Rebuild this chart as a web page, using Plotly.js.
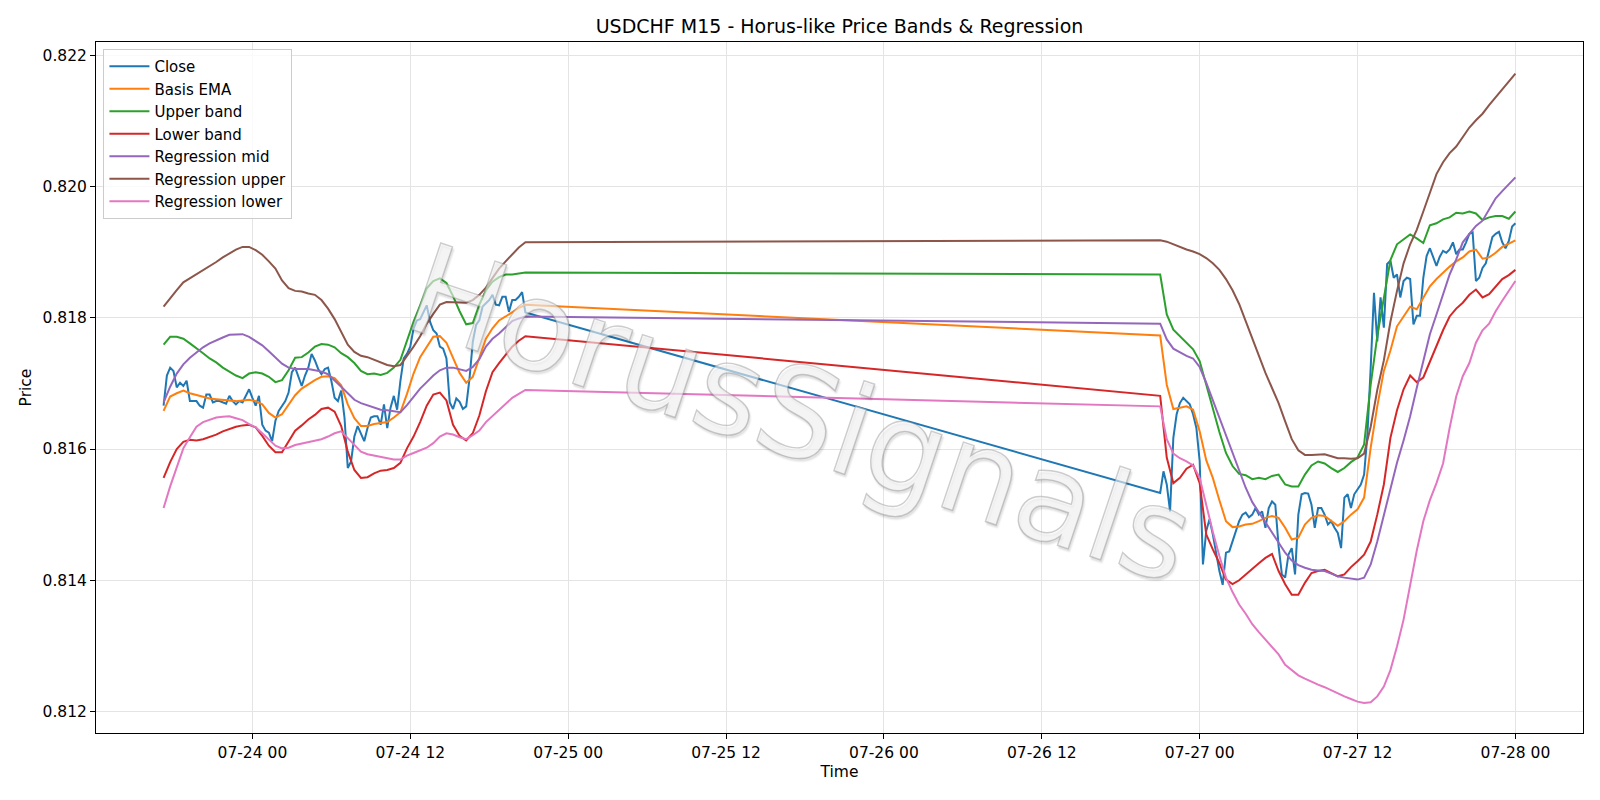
<!DOCTYPE html>
<html><head><meta charset="utf-8">
<script src="https://cdn.plot.ly/plotly-3.0.1.min.js"></script>
<style>
html,body{margin:0;padding:0;background:#fff;}
#chart{width:1600px;height:800px;}
#chart .annotation-text{stroke:rgba(130,130,130,0.4) !important;stroke-width:1.4px !important;}
</style>
</head><body><div id="chart"></div>
<script>
// ---- time axis (M15 bars, two trading sessions) ----
const session1Start = '2020-07-23 17:15';
const session2Start = '2020-07-26 21:00';
const closeCount1 = 111, closeCount2 = 109;   // 15-minute bars
const bandCount1 = 56, bandCount2 = 55;       // indicator values read every 30 minutes

// ---- Close (15-minute) ----
const close1 = [0.81666,0.81712,0.81724,0.81719,0.81694,0.81701,0.81696,0.81704,0.81673,0.81673,
0.81673,0.81666,0.81663,0.81683,0.81683,0.81671,0.81673,0.81673,0.81671,0.81669,
0.81681,0.81673,0.81668,0.81673,0.81671,0.81681,0.81691,0.81678,0.81666,0.81681,
0.81637,0.81628,0.81625,0.81612,0.81643,0.81658,0.81666,0.81673,0.81686,0.81717,
0.81724,0.81709,0.81696,0.81712,0.81724,0.81745,0.81735,0.81722,0.81714,0.81722,
0.81724,0.81704,0.81678,0.81673,0.81689,0.81648,0.81571,0.81581,0.81619,0.81635,
0.81622,0.81612,0.81632,0.81648,0.81650,0.81650,0.81637,0.81668,0.81632,0.81663,
0.81681,0.81660,0.81704,0.81738,0.81745,0.81756,0.81784,0.81796,0.81798,0.81809,
0.81819,0.81794,0.81781,0.81776,0.81756,0.81753,0.81738,0.81671,0.81661,0.81677,
0.81672,0.81661,0.81665,0.81707,0.81763,0.81789,0.81796,0.81817,0.81822,0.81827,
0.81835,0.81820,0.81819,0.81832,0.81832,0.81809,0.81827,0.81827,0.81832,0.81839,0.81808];
const close2 = [0.81533,0.81566,0.81546,0.81505,0.81617,0.81653,0.81670,0.81678,0.81673,0.81668,
0.81653,0.81632,0.81582,0.81424,0.81475,0.81493,0.81470,0.81439,0.81414,0.81393,
0.81442,0.81444,0.81459,0.81475,0.81490,0.81500,0.81503,0.81496,0.81500,0.81510,
0.81500,0.81505,0.81480,0.81510,0.81520,0.81515,0.81452,0.81409,0.81404,0.81439,
0.81449,0.81409,0.81500,0.81531,0.81533,0.81532,0.81515,0.81480,0.81510,0.81510,
0.81500,0.81485,0.81490,0.81480,0.81472,0.81449,0.81526,0.81531,0.81510,0.81531,
0.81538,0.81546,0.81561,0.81622,0.81724,0.81838,0.81764,0.81831,0.81785,0.81882,
0.81887,0.81861,0.81866,0.81831,0.81856,0.81861,0.81859,0.81790,0.81803,0.81803,
0.81861,0.81894,0.81906,0.81892,0.81879,0.81893,0.81902,0.81899,0.81904,0.81915,
0.81897,0.81904,0.81904,0.81915,0.81928,0.81930,0.81856,0.81861,0.81876,0.81883,
0.81902,0.81923,0.81928,0.81931,0.81915,0.81906,0.81917,0.81939,0.81944];

// ---- Basis EMA ----
const basis1 = [0.81658,0.81680,0.81685,0.81689,0.81685,0.81682,0.81679,0.81677,0.81676,0.81675,
0.81674,0.81673,0.81674,0.81675,0.81673,0.81668,0.81655,0.81648,0.81653,0.81667,
0.81682,0.81692,0.81699,0.81705,0.81710,0.81711,0.81708,0.81697,0.81668,0.81647,
0.81635,0.81635,0.81638,0.81640,0.81641,0.81648,0.81656,0.81684,0.81715,0.81740,
0.81756,0.81771,0.81772,0.81762,0.81739,0.81716,0.81701,0.81710,0.81739,0.81768,
0.81784,0.81796,0.81802,0.81809,0.81815,0.81820];
const basis2 = [0.81773,0.81698,0.81661,0.81663,0.81665,0.81660,0.81627,0.81583,0.81556,0.81522,
0.81490,0.81481,0.81482,0.81485,0.81486,0.81490,0.81495,0.81498,0.81495,0.81480,
0.81462,0.81465,0.81485,0.81495,0.81499,0.81498,0.81491,0.81483,0.81490,0.81500,
0.81508,0.81526,0.81602,0.81665,0.81719,0.81750,0.81787,0.81803,0.81817,0.81813,
0.81831,0.81848,0.81859,0.81869,0.81878,0.81886,0.81892,0.81901,0.81904,0.81890,
0.81892,0.81899,0.81908,0.81913,0.81918];

// ---- Upper band ----
const upper1 = [0.81759,0.81771,0.81771,0.81768,0.81761,0.81754,0.81746,0.81738,0.81732,0.81724,
0.81718,0.81712,0.81708,0.81715,0.81717,0.81715,0.81710,0.81702,0.81705,0.81720,
0.81739,0.81740,0.81747,0.81756,0.81760,0.81759,0.81755,0.81746,0.81740,0.81731,
0.81719,0.81714,0.81715,0.81713,0.81716,0.81724,0.81736,0.81766,0.81794,0.81819,
0.81845,0.81856,0.81860,0.81853,0.81833,0.81810,0.81790,0.81792,0.81820,0.81842,
0.81855,0.81862,0.81866,0.81866,0.81867,0.81869];
const upper2 = [0.81866,0.81805,0.81782,0.81772,0.81762,0.81752,0.81734,0.81698,0.81660,0.81626,
0.81594,0.81574,0.81562,0.81560,0.81554,0.81556,0.81554,0.81559,0.81561,0.81546,
0.81543,0.81543,0.81561,0.81575,0.81581,0.81578,0.81571,0.81565,0.81571,0.81580,
0.81587,0.81607,0.81698,0.81772,0.81830,0.81888,0.81912,0.81919,0.81927,0.81921,
0.81914,0.81941,0.81944,0.81950,0.81953,0.81960,0.81959,0.81962,0.81959,0.81949,
0.81953,0.81955,0.81955,0.81951,0.81962];

// ---- Lower band ----
const lower1 = [0.81556,0.81580,0.81600,0.81611,0.81614,0.81613,0.81615,0.81618,0.81622,0.81627,
0.81631,0.81634,0.81636,0.81637,0.81633,0.81620,0.81605,0.81595,0.81595,0.81612,
0.81628,0.81636,0.81645,0.81652,0.81661,0.81663,0.81657,0.81635,0.81596,0.81568,
0.81556,0.81557,0.81563,0.81567,0.81568,0.81571,0.81579,0.81601,0.81619,0.81641,
0.81666,0.81683,0.81686,0.81674,0.81637,0.81620,0.81613,0.81624,0.81651,0.81688,
0.81717,0.81731,0.81743,0.81756,0.81765,0.81772];
const lower2 = [0.81681,0.81587,0.81548,0.81556,0.81570,0.81576,0.81548,0.81470,0.81447,0.81426,
0.81401,0.81394,0.81400,0.81409,0.81417,0.81426,0.81434,0.81440,0.81414,0.81394,
0.81378,0.81378,0.81396,0.81411,0.81414,0.81416,0.81411,0.81406,0.81409,0.81420,
0.81429,0.81439,0.81459,0.81500,0.81546,0.81617,0.81659,0.81691,0.81712,0.81702,
0.81709,0.81734,0.81756,0.81781,0.81802,0.81814,0.81823,0.81835,0.81843,0.81831,
0.81836,0.81848,0.81859,0.81865,0.81873];

// ---- Regression mid ----
const regMid1 = [0.81671,0.81695,0.81715,0.81729,0.81739,0.81747,0.81755,0.81761,0.81766,0.81770,
0.81774,0.81775,0.81775,0.81771,0.81765,0.81758,0.81749,0.81740,0.81730,0.81724,
0.81722,0.81722,0.81722,0.81720,0.81718,0.81714,0.81705,0.81695,0.81685,0.81675,
0.81670,0.81667,0.81663,0.81660,0.81659,0.81657,0.81656,0.81667,0.81680,0.81692,
0.81702,0.81712,0.81720,0.81724,0.81724,0.81722,0.81719,0.81725,0.81737,0.81756,
0.81768,0.81776,0.81786,0.81795,0.81799,0.81802];
const regMid2 = [0.81791,0.81767,0.81753,0.81747,0.81742,0.81738,0.81725,0.81701,0.81674,0.81648,
0.81621,0.81594,0.81567,0.81541,0.81519,0.81504,0.81487,0.81472,0.81457,0.81442,
0.81430,0.81423,0.81419,0.81416,0.81415,0.81414,0.81410,0.81406,0.81404,0.81402,
0.81401,0.81404,0.81424,0.81459,0.81500,0.81540,0.81579,0.81613,0.81650,0.81693,
0.81736,0.81775,0.81805,0.81836,0.81866,0.81889,0.81915,0.81928,0.81940,0.81948,
0.81966,0.81982,0.81993,0.82004,0.82014];

// ---- Regression upper ----
const regUp1 = [0.81817,0.81830,0.81842,0.81854,0.81860,0.81867,0.81873,0.81879,0.81885,0.81892,
0.81898,0.81904,0.81908,0.81908,0.81903,0.81896,0.81886,0.81875,0.81857,0.81845,
0.81841,0.81840,0.81837,0.81835,0.81827,0.81814,0.81798,0.81778,0.81759,0.81748,
0.81742,0.81740,0.81736,0.81732,0.81728,0.81726,0.81728,0.81742,0.81756,0.81772,
0.81791,0.81806,0.81820,0.81824,0.81824,0.81824,0.81823,0.81827,0.81835,0.81846,
0.81861,0.81875,0.81886,0.81896,0.81907,0.81915];
const regUp2 = [0.81918,0.81916,0.81912,0.81907,0.81904,0.81901,0.81897,0.81891,0.81883,0.81873,
0.81859,0.81842,0.81821,0.81795,0.81768,0.81740,0.81716,0.81693,0.81670,0.81642,
0.81615,0.81598,0.81591,0.81591,0.81591,0.81592,0.81589,0.81586,0.81586,0.81585,
0.81586,0.81593,0.81634,0.81690,0.81735,0.81794,0.81841,0.81883,0.81912,0.81934,
0.81962,0.81989,0.82019,0.82037,0.82051,0.82061,0.82075,0.82090,0.82101,0.82111,
0.82124,0.82136,0.82147,0.82159,0.82172];

// ---- Regression lower ----
const regLow1 = [0.81510,0.81543,0.81572,0.81601,0.81618,0.81634,0.81641,0.81645,0.81648,0.81649,
0.81650,0.81647,0.81644,0.81638,0.81633,0.81624,0.81614,0.81605,0.81601,0.81602,
0.81606,0.81608,0.81610,0.81613,0.81615,0.81619,0.81624,0.81627,0.81617,0.81606,
0.81596,0.81592,0.81590,0.81587,0.81585,0.81584,0.81584,0.81590,0.81594,0.81598,
0.81602,0.81609,0.81619,0.81624,0.81622,0.81618,0.81615,0.81621,0.81628,0.81641,
0.81650,0.81659,0.81668,0.81678,0.81684,0.81690];
const regLow2 = [0.81665,0.81615,0.81593,0.81586,0.81581,0.81575,0.81556,0.81513,0.81474,0.81437,
0.81404,0.81382,0.81363,0.81349,0.81333,0.81321,0.81310,0.81299,0.81287,0.81271,
0.81263,0.81255,0.81250,0.81245,0.81241,0.81237,0.81232,0.81227,0.81223,0.81219,
0.81215,0.81213,0.81214,0.81223,0.81238,0.81263,0.81299,0.81340,0.81395,0.81445,
0.81490,0.81522,0.81548,0.81578,0.81632,0.81680,0.81711,0.81731,0.81762,0.81781,
0.81791,0.81810,0.81826,0.81841,0.81856];

const seriesNames = ['Close','Basis EMA','Upper band','Lower band','Regression mid','Regression upper','Regression lower'];
const seriesColors = ['#1f77b4','#ff7f0e','#2ca02c','#d62728','#9467bd','#8c564b','#e377c2'];
const yTicks = [0.812,0.814,0.816,0.818,0.820,0.822];
const titleText = 'USDCHF M15 - Horus-like Price Bands & Regression';
const watermarkText = 'HorusSignals';

function makeTimes(start, count, stepMin){
  const [d,t] = start.split(' ');
  const [Y,M,D] = d.split('-').map(Number);
  const [h,mi] = t.split(':').map(Number);
  const base = Date.UTC(Y,M-1,D,h,mi);
  const out = [];
  for(let i=0;i<count;i++){
    out.push(new Date(base+i*stepMin*60000).toISOString().slice(0,16).replace('T',' '));
  }
  return out;
}
const tClose = makeTimes(session1Start, closeCount1, 15).concat(makeTimes(session2Start, closeCount2, 15));
const tBand = makeTimes(session1Start, bandCount1, 30).concat(makeTimes(session2Start, bandCount2, 30));

const ys = [close1.concat(close2), basis1.concat(basis2), upper1.concat(upper2), lower1.concat(lower2),
            regMid1.concat(regMid2), regUp1.concat(regUp2), regLow1.concat(regLow2)];
const traces = ys.map((y,i)=>({
  type:'scatter', mode:'lines', name:seriesNames[i],
  x: i===0 ? tClose : tBand, y: y,
  line:{color:seriesColors[i], width:2}
}));

const tickFont = {family:'DejaVu Sans', size:15.5, color:'#000'};
const layout = {
  width:1600, height:800,
  margin:{l:96, r:17, t:42, b:67},
  paper_bgcolor:'#ffffff', plot_bgcolor:'#ffffff',
  font:{family:'DejaVu Sans', size:15.5, color:'#000'},
  title:{text:titleText, font:{family:'DejaVu Sans', size:19, color:'#000'}, x:0.5, xref:'paper', xanchor:'center', y:1-26.5/800, yref:'container', yanchor:'middle'},
  showlegend:true,
  legend:{x:0.005, y:0.99, xanchor:'left', yanchor:'top', bgcolor:'rgba(255,255,255,0.8)', bordercolor:'#cccccc', borderwidth:1, font:{family:'DejaVu Sans', size:15, color:'#000'}, tracegroupgap:0, itemwidth:40},
  xaxis:{type:'date', range:['2020-07-23 12:06:45','2020-07-28 05:08:15'],
    tickformat:'%m-%d %H', dtick:43200000, tick0:'2020-07-24 00:00',
    ticks:'outside', ticklen:5, tickwidth:1, tickcolor:'#000',
    showline:true, linecolor:'#000', linewidth:1, mirror:true,
    showgrid:true, gridcolor:'#e4e4e4', gridwidth:1, zeroline:false,
    tickfont:tickFont,
    title:{text:'Time', font:tickFont, standoff:5}},
  yaxis:{range:[0.811672,0.822203], tickvals:yTicks, tickformat:'.3f',
    ticks:'outside', ticklen:5, tickwidth:1, tickcolor:'#000',
    showline:true, linecolor:'#000', linewidth:1, mirror:true,
    showgrid:true, gridcolor:'#e4e4e4', gridwidth:1, zeroline:false,
    tickfont:tickFont,
    title:{text:'Price', font:tickFont, standoff:7}},
  annotations:[{text:watermarkText, xref:'paper', yref:'paper', x:0.4735, y:0.462,
    showarrow:false, textangle:18.5,
    font:{family:'DejaVu Sans', size:125, color:'rgba(255,255,255,0.6)', shadow:'2px 2px 2px rgba(0,0,0,0.18)'}}]
};
Plotly.newPlot('chart', traces, layout, {displayModeBar:false, staticPlot:true});
</script>
</body></html>
